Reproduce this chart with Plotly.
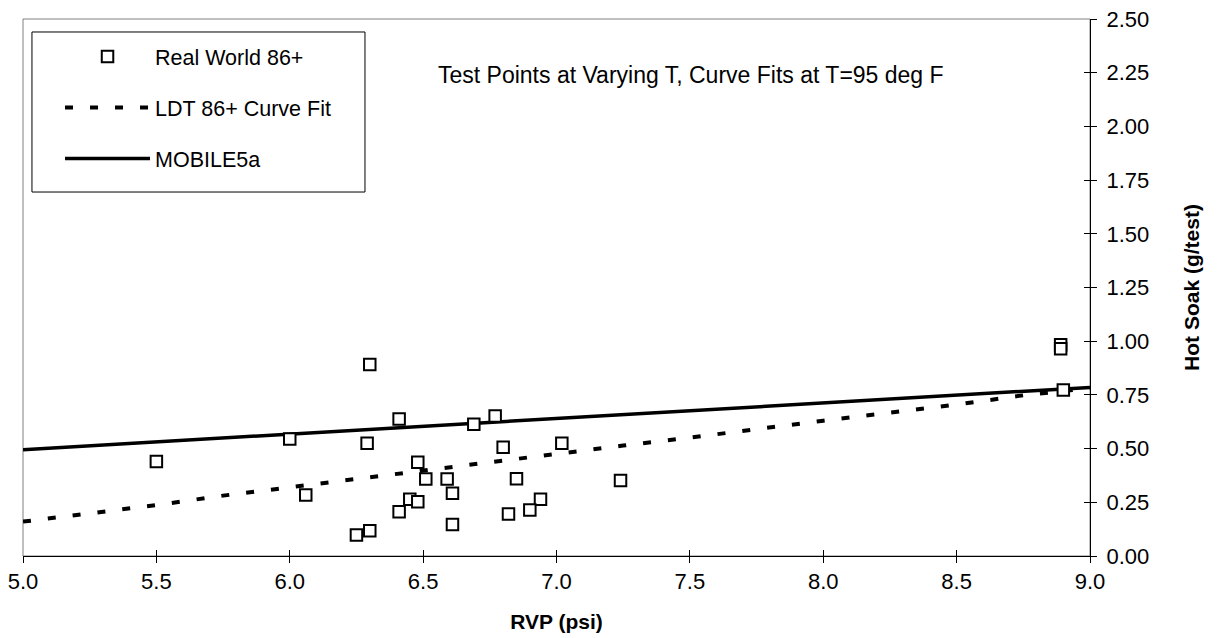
import plotly.graph_objects as go

# Observed test points: RVP (psi) and hot soak emissions (g/test)
rvp_obs = [5.50, 6.00, 6.06, 6.30, 6.41, 6.29, 6.69, 6.48, 6.51, 6.59,
           6.61, 6.45, 6.48, 6.41, 6.61, 6.25, 6.30, 6.77, 6.80, 7.02,
           6.85, 7.24, 6.94, 6.90, 6.82, 8.89, 8.89, 8.90]
hs_obs = [0.440, 0.545, 0.284, 0.892, 0.638, 0.525, 0.613, 0.436, 0.358, 0.358,
          0.292, 0.264, 0.253, 0.206, 0.147, 0.098, 0.118, 0.652, 0.506, 0.525,
          0.360, 0.351, 0.264, 0.214, 0.196, 0.984, 0.965, 0.773]

# LDT 86+ curve fit (T = 95 deg F)
rvp_fit = [5.00, 5.25, 5.50, 5.75, 6.00, 6.25, 6.50, 6.75, 7.00,
           7.25, 7.50, 7.75, 8.00, 8.25, 8.50, 8.75, 9.00]
ldt_fit = [0.160, 0.197, 0.237, 0.281, 0.320, 0.358, 0.399, 0.439, 0.478,
           0.514, 0.551, 0.592, 0.630, 0.667, 0.705, 0.748, 0.782]

# MOBILE5a
rvp_m5 = [5.0, 6.0, 7.0, 8.0, 9.0]
m5_fit = [0.495, 0.567, 0.640, 0.712, 0.785]

x_ticks = [5.0, 5.5, 6.0, 6.5, 7.0, 7.5, 8.0, 8.5, 9.0]
y_ticks = [0.00, 0.25, 0.50, 0.75, 1.00, 1.25, 1.50, 1.75, 2.00, 2.25, 2.50]

FONT = "Arial, Liberation Sans, sans-serif"

fig = go.Figure()

fig.add_trace(go.Scatter(
    x=rvp_fit, y=ldt_fit, mode="lines", name="LDT 86+ Curve Fit",
    line=dict(color="black", width=4, dash="8px,17px"),
    legendgroup="b", legendrank=2,
))
fig.add_trace(go.Scatter(
    x=rvp_m5, y=m5_fit, mode="lines", name="MOBILE5a",
    line=dict(color="black", width=3.5),
    legendgroup="c", legendrank=3,
))
fig.add_trace(go.Scatter(
    x=rvp_obs, y=hs_obs, mode="markers", name="Real World 86+",
    marker=dict(symbol="square", size=11.5, color="white",
                line=dict(color="black", width=2)),
    legendgroup="a", legendrank=1,
))
# empty trace to carry the crossing-tick overlay axes
fig.add_trace(go.Scatter(x=[], y=[], xaxis="x2", yaxis="y2",
                         showlegend=False, hoverinfo="skip"))

tick_font = dict(family=FONT, size=22, color="black")
title_font = dict(family=FONT, size=21, color="black")

fig.update_layout(
    width=1217, height=638,
    margin=dict(l=23, r=127, t=19, b=82, autoexpand=False),
    paper_bgcolor="white", plot_bgcolor="white",
    font=dict(family=FONT, size=21, color="black"),
    showlegend=True,
    legend=dict(
        x=0.0347, y=0.9683, xanchor="left", yanchor="top",
        bgcolor="rgba(0,0,0,0)", borderwidth=0,
        font=dict(family=FONT, size=21.5, color="black"),
        itemwidth=85, tracegroupgap=20, traceorder="grouped",
    ),
    xaxis=dict(
        range=[5, 9], tickvals=x_ticks, ticktext=[f"{v:.1f}" for v in x_ticks],
        ticks="outside", ticklen=6, tickwidth=1, tickcolor="black",
        showline=True, linecolor="black", linewidth=1,
        showgrid=False, zeroline=False, tickfont=tick_font,
        title=dict(text="<b>RVP (psi)</b>", font=title_font, standoff=20),
    ),
    xaxis2=dict(
        range=[5, 9], tickvals=x_ticks, overlaying="x", anchor="y",
        side="bottom", ticks="inside", ticklen=6, tickwidth=1,
        tickcolor="black", showticklabels=False, showline=False,
        showgrid=False, zeroline=False,
    ),
    yaxis=dict(
        range=[0, 2.5], tickvals=y_ticks, ticktext=[f"{v:.2f}" for v in y_ticks],
        side="right", ticks="outside", ticklen=6, tickwidth=1, tickcolor="black",
        showline=True, linecolor="black", linewidth=1, ticklabelstandoff=5,
        showgrid=False, zeroline=False, tickfont=tick_font,
        title=dict(text="<b>Hot Soak (g/test)</b>", font=title_font, standoff=36),
    ),
    yaxis2=dict(
        range=[0, 2.5], tickvals=y_ticks, overlaying="y", anchor="x",
        side="right", ticks="inside", ticklen=6, tickwidth=1,
        tickcolor="black", showticklabels=False, showline=False,
        showgrid=False, zeroline=False,
    ),
    shapes=[
        dict(type="rect", xref="paper", yref="paper", x0=0, y0=0, x1=1, y1=1,
             line=dict(color="#808080", width=1), layer="below"),
        # legend frame
        dict(type="rect", xref="paper", yref="paper",
             x0=0.0084, y0=0.6778, x1=0.3205, y1=0.9758,
             line=dict(color="black", width=1), fillcolor="white", layer="above"),
    ],
    annotations=[dict(
        text="Test Points at Varying T, Curve Fits at T=95 deg F",
        xref="paper", yref="paper", x=0.626, y=0.8957,
        xanchor="center", yanchor="middle", showarrow=False,
        font=dict(family=FONT, size=23, color="black"),
    )],
)

fig.write_html("out.html")
